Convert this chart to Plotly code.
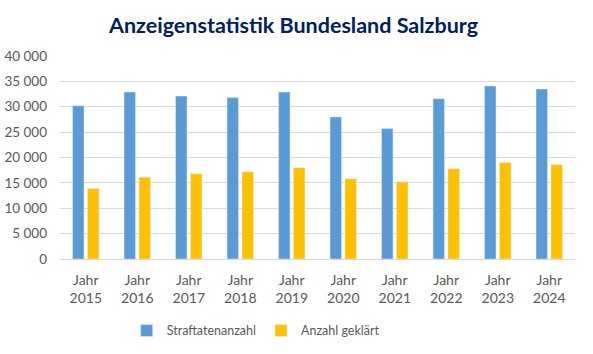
import plotly.graph_objects as go

years = ["2015", "2016", "2017", "2018", "2019", "2020", "2021", "2022", "2023", "2024"]
categories = [f"Jahr<br>{y}" for y in years]
straftaten = [30200, 32900, 32100, 31800, 32900, 28000, 25700, 31600, 34100, 33500]
geklaert = [13900, 16100, 16800, 17200, 18000, 15800, 15200, 17800, 19000, 18600]
y_ticks = [0, 5000, 10000, 15000, 20000, 25000, 30000, 35000, 40000]

fig = go.Figure()
fig.add_trace(go.Bar(x=categories, y=straftaten, name="Straftatenanzahl", marker_color="#5B9BD5"))
fig.add_trace(go.Bar(x=categories, y=geklaert, name="Anzahl geklärt", marker_color="#FFC000"))

fig.update_layout(
    width=593, height=354,
    margin=dict(l=60, r=18, t=56, b=95),
    paper_bgcolor="white", plot_bgcolor="white",
    separators=", ",
    font=dict(family="Lato, Open Sans, sans-serif", size=13, color="#595959"),
    title=dict(text="<b>Anzeigenstatistik Bundesland Salzburg</b>", x=0.495, xanchor="center",
               y=0.927, yanchor="middle", font=dict(size=21.5, color="#002060")),
    barmode="group", bargap=0.42, bargroupgap=0.23,
    legend=dict(orientation="h", x=0.38, xanchor="center", yref="container", y=0.065, yanchor="middle",
                font=dict(size=12.5, color="#595959"), itemwidth=30, traceorder="normal"),
    showlegend=True,
)
fig.update_xaxes(showline=True, linecolor="#d9d9d9", ticks="", tickfont=dict(size=14),
                 ticklabelstandoff=8, automargin=False)
fig.update_yaxes(range=[0, 40000], tickvals=y_ticks, tickformat=",d", gridcolor="#d9d9d9",
                 zeroline=False, ticks="", tickfont=dict(size=13.5), ticklabelstandoff=12,
                 automargin=False)

fig.write_html("out.html")
